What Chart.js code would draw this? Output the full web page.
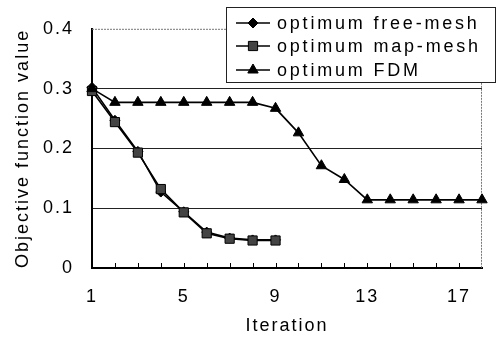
<!DOCTYPE html>
<html><head><meta charset="utf-8">
<script src="https://cdn.jsdelivr.net/npm/chart.js@4"></script>
<style>html,body{margin:0;padding:0;background:#fff}#wrap{width:500px;height:341px}</style>
</head><body><div id="wrap"><canvas id="c" width="500" height="341"></canvas></div>
<script>
const iterations = ['1','2','3','4','5','6','7','8','9','10','11','12','13','14','15','16','17','18'];
const freeMesh = [0.302,0.247,0.195,0.127,0.094,0.060,0.050,0.047,0.047];
const mapMesh  = [0.296,0.244,0.193,0.132,0.093,0.058,0.049,0.046,0.046];
const fdm      = [0.300,0.277,0.277,0.277,0.277,0.277,0.277,0.277,0.267,0.226,0.171,0.148,0.114,0.114,0.114,0.114,0.114,0.114];
const yTicks = [0,0.1,0.2,0.3,0.4];
const xTickLabels = ['1','5','9','13','17'];
const seriesNames = ['optimum free-mesh','optimum map-mesh','optimum FDM'];

const FONT = '"Liberation Sans", Arial, sans-serif';

function marker(ctx, style, x, y, r, fill) {
  ctx.beginPath();
  if (style === 'rectRot') {
    ctx.moveTo(x, y - r); ctx.lineTo(x + r, y); ctx.lineTo(x, y + r); ctx.lineTo(x - r, y); ctx.closePath();
  } else if (style === 'rect') {
    const s = r * Math.SQRT1_2; ctx.rect(x - s, y - s, 2 * s, 2 * s);
  } else {
    ctx.moveTo(x, y - r); ctx.lineTo(x + r * 0.866, y + r / 2); ctx.lineTo(x - r * 0.866, y + r / 2); ctx.closePath();
  }
  ctx.fillStyle = fill; ctx.fill();
  ctx.strokeStyle = '#000'; ctx.lineWidth = 1; ctx.stroke();
}

const extras = {
  id: 'extras',
  beforeUpdate(chart) { chart.ctx.letterSpacing = '2px'; },
  beforeDraw(chart) { chart.ctx.letterSpacing = '2px'; },
  beforeDatasetsDraw(chart) {
    const ctx = chart.ctx, a = chart.chartArea, xs = chart.scales.x;
    ctx.save();
    ctx.strokeStyle = '#777'; ctx.lineWidth = 1; ctx.setLineDash([2, 1]);
    ctx.beginPath();
    ctx.moveTo(a.left, a.top + 0.5); ctx.lineTo(a.right, a.top + 0.5);
    ctx.moveTo(a.right - 0.5, a.top); ctx.lineTo(a.right - 0.5, a.bottom);
    ctx.stroke();
    ctx.setLineDash([]);
    ctx.strokeStyle = '#000';
    ctx.beginPath();
    for (let i = 1; i < iterations.length - 1; i++) {
      const x = Math.round(xs.getPixelForValue(i)) + 0.5;
      ctx.moveTo(x, a.bottom); ctx.lineTo(x, a.bottom - 5);
    }
    ctx.stroke();
    ctx.restore();
  },
  afterDraw(chart) {
    const ctx = chart.ctx;
    ctx.save();
    ctx.fillStyle = '#fff'; ctx.fillRect(226, 7, 269, 75);
    ctx.strokeStyle = '#222'; ctx.lineWidth = 1; ctx.strokeRect(226.5, 7.5, 269, 75);
    const rows = [23, 46, 70];
    chart.data.datasets.forEach((ds, i) => {
      const y = rows[i];
      ctx.strokeStyle = '#000'; ctx.lineWidth = 1.5;
      ctx.beginPath(); ctx.moveTo(236, y); ctx.lineTo(270, y); ctx.stroke();
      marker(ctx, ds.pointStyle, 253, y, ds.pointRadius, ds.pointBackgroundColor);
      ctx.fillStyle = '#000';
      ctx.font = '18px ' + FONT;
      ctx.letterSpacing = '2.8px';
      ctx.textBaseline = 'middle'; ctx.textAlign = 'left';
      ctx.fillText(seriesNames[i], 277, y + 1);
    });
    ctx.restore();
  }
};

new Chart(document.getElementById('c'), {
  type: 'line',
  data: {
    labels: iterations,
    datasets: [
      { label: seriesNames[0], data: freeMesh, borderColor: '#000', borderWidth: 1.6, pointStyle: 'rectRot', pointRadius: 5, pointBackgroundColor: '#000', pointBorderColor: '#000', pointBorderWidth: 1, order: 2 },
      { label: seriesNames[1], data: mapMesh, borderColor: '#000', borderWidth: 1.6, pointStyle: 'rect', pointRadius: 6.5, pointBackgroundColor: '#444', pointBorderColor: '#000', pointBorderWidth: 1, order: 1 },
      { label: seriesNames[2], data: fdm, borderColor: '#000', borderWidth: 1.6, pointStyle: 'triangle', pointRadius: 6, pointBackgroundColor: '#000', pointBorderColor: '#000', pointBorderWidth: 1, order: 0 }
    ]
  },
  options: {
    responsive: false, animation: false, devicePixelRatio: 1,
    layout: { padding: { left: 0, right: 17, top: 17, bottom: 0 } },
    plugins: { legend: { display: false }, tooltip: { enabled: false } },
    elements: { line: { tension: 0 } },
    scales: {
      x: {
        type: 'category', offset: false,
        afterFit(s) { s.height = 73; },
        grid: { display: true, drawOnChartArea: false, drawTicks: false, tickLength: 0 },
        border: { display: true, color: '#000', width: 2 },
        ticks: {
          autoSkip: false, maxRotation: 0, padding: 18, color: '#000',
          font: { size: 18, family: FONT },
          callback(v, i) { return xTickLabels.includes(iterations[i]) ? iterations[i] : ''; }
        },
        title: { display: true, text: 'Iteration', color: '#000', font: { size: 18, family: FONT }, padding: { top: 0, bottom: 4 } }
      },
      y: {
        min: 0, max: 0.4,
        afterFit(s) { s.width = 92; },
        afterBuildTicks(s) { s.ticks = yTicks.map(v => ({ value: v })); },
        grid: { drawTicks: false, tickLength: 0, lineWidth: 1, color: c => (c.tick && (c.tick.value === 0 || c.tick.value === 0.4)) ? 'rgba(0,0,0,0)' : '#222' },
        border: { display: true, color: '#000', width: 2 },
        ticks: {
          padding: 18, color: '#000', font: { size: 18, family: FONT },
          callback(v) { return v === 0 ? '0' : v.toFixed(1); }
        },
        title: { display: true, text: 'Objective function value', color: '#000', font: { size: 18, family: FONT }, padding: { top: 12, bottom: 0 } }
      }
    }
  },
  plugins: [extras]
});
</script>
</body></html>
